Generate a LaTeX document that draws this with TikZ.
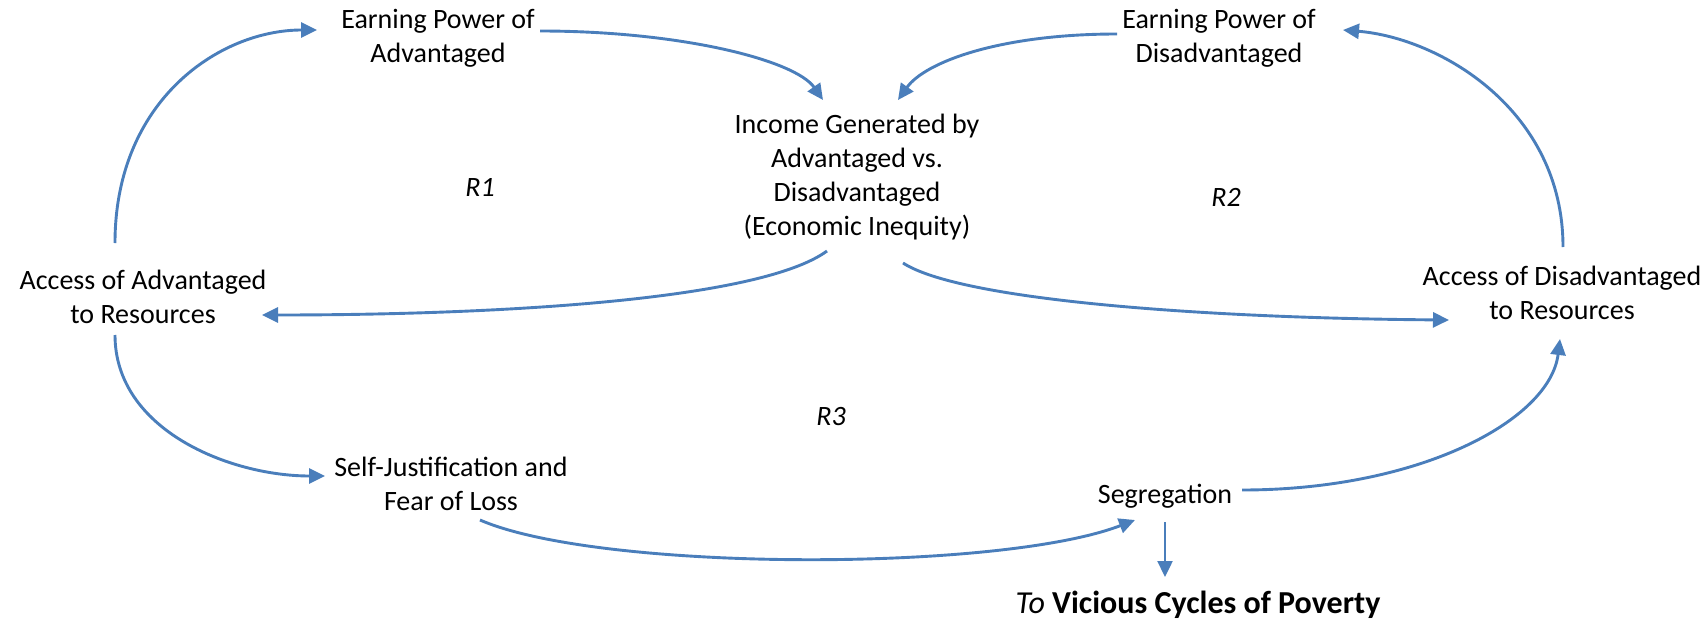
\documentclass[tikz,border=0pt]{standalone}
\usepackage{fontspec}
\setmainfont{Carlito}
\usetikzlibrary{arrows.meta}
\definecolor{arrowblue}{HTML}{4A7EBB}
\begin{document}
\begin{tikzpicture}[x=1pt,y=-1pt,
  font=\fontsize{28}{34}\selectfont,
  lbl/.style={align=center, inner sep=0pt},
  loop/.style={inner sep=0pt, font=\fontsize{28}{34}\selectfont\itshape},
  arr/.style={draw=arrowblue, line width=2.9pt, -{Triangle[length=16pt,width=15pt]}}]
\useasboundingbox (0,0) rectangle (1708,621);

\node[lbl] (epa) at (438,38) {Earning Power of\\Advantaged};
\node[lbl] (epd) at (1219,38) {Earning Power of\\Disadvantaged};
\node[lbl] (ig) at (857,177) {Income Generated by\\Advantaged vs.\\Disadvantaged\\(Economic Inequity)};
\node[lbl] (aa) at (143,297) {Access of Advantaged\\to Resources};
\node[lbl] (ad) at (1562,293) {Access of Disadvantaged\\to Resources};
\node[lbl] (sj) at (451,484) {Self-Justification and\\Fear of Loss};
\node[lbl] (seg) at (1165,496) {Segregation};
\node[lbl] (vc) at (1198,605) {\fontsize{32}{38}\selectfont\textit{To} \textbf{Vicious Cycles of Poverty}};

\node[loop] (r1) at (480,187) {R1};
\node[loop] (r2) at (1226,197) {R2};
\node[loop] (r3) at (831,417) {R3};

\draw[arr] ([shift={(-28,-54)}]aa.center) .. controls (115,100) and (220,30) .. ([shift={(-121,-8)}]epa.center);
\draw[arr] ([shift={(102,-7)}]epa.center) .. controls (680,31) and (795,60) .. ([shift={(-34,-77)}]ig.center);
\draw[arr] ([shift={(-102,-4)}]epd.center) .. controls (1000,34) and (925,62) .. ([shift={(41,-77)}]ig.center);
\draw[arr] ([shift={(1,-46)}]ad.center) .. controls (1563,110) and (1440,38) .. ([shift={(124,-8)}]epd.center);
\draw[arr] ([shift={(-30,74)}]ig.center) .. controls (760,300) and (500,315) .. ([shift={(119,18)}]aa.center);
\draw[arr] ([shift={(46,86)}]ig.center) .. controls (960,300) and (1200,318) .. ([shift={(-113,27)}]ad.center);
\draw[arr] ([shift={(-28,38)}]aa.center) .. controls (115,430) and (230,476) .. ([shift={(-126,-8)}]sj.center);
\draw[arr] ([shift={(29,36)}]sj.center) .. controls (600,572) and (1000,572) .. ([shift={(-30,24)}]seg.center);
\draw[arr] ([shift={(77,-6)}]seg.center) .. controls (1420,490) and (1550,420) .. ([shift={(-2,46)}]ad.center);
\draw[arr, line width=2.4pt] ([shift={(0,26)}]seg.center) -- ([shift={(-33,-28)}]vc.center);
\end{tikzpicture}
\end{document}
